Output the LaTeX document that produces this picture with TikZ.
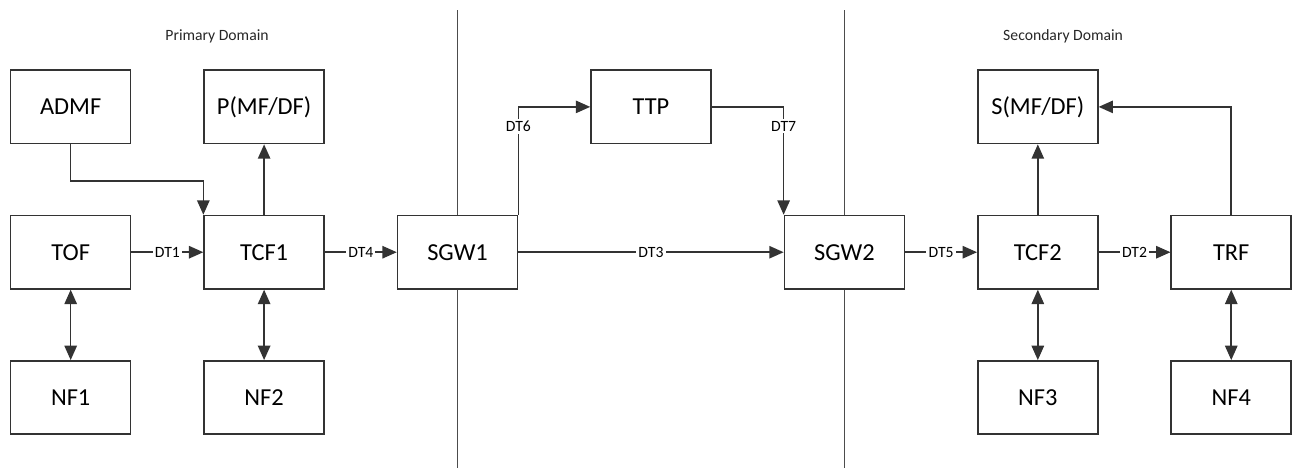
\documentclass[tikz,border=0pt]{standalone}
\usepackage{fontspec}
\setmainfont{Carlito}
\usetikzlibrary{positioning,arrows.meta,calc}
\tikzset{
  fbox/.style={draw=black!80,line width=0.9pt,fill=white,minimum width=24.2mm,
               minimum height=14.8mm,inner sep=1pt,font=\fontsize{14}{16}\selectfont},
  fl/.style={-{Triangle[length=2.9mm,width=2.5mm]},line width=0.9pt,draw=black!80},
  bfl/.style={{Triangle[length=2.9mm,width=2.5mm]}-{Triangle[length=2.9mm,width=2.5mm]},
              line width=0.9pt,draw=black!80},
  dt/.style={font=\fontsize{9}{10}\selectfont,fill=white,inner sep=1.2pt},
  dom/.style={font=\fontsize{9}{10}\selectfont,text=black!85},
  sep/.style={line width=0.9pt,draw=black!70},
}
\begin{document}
\begin{tikzpicture}[node distance=14.2mm and 14.5mm]
% primary domain
\node[fbox] (tof) {TOF};
\node[fbox,right=of tof] (tcf1) {TCF1};
\node[fbox,right=of tcf1] (sgw1) {SGW1};
\node[fbox,above=of tof] (admf) {ADMF};
\node[fbox,above=of tcf1] (pmf) {P(MF/DF)};
\node[fbox,below=of tof] (nf1) {NF1};
\node[fbox,below=of tcf1] (nf2) {NF2};
% trusted third party + secondary domain
\node[fbox,above right=of sgw1] (ttp) {TTP};
\node[fbox,below right=of ttp] (sgw2) {SGW2};
\node[fbox,right=of sgw2] (tcf2) {TCF2};
\node[fbox,right=of tcf2] (trf) {TRF};
\node[fbox,above=of tcf2] (smf) {S(MF/DF)};
\node[fbox,below=of tcf2] (nf3) {NF3};
\node[fbox,below=of trf] (nf4) {NF4};
\useasboundingbox ($(admf.north west)+(-0.2,1.4)$) rectangle ($(nf4.south east)+(0.04,-0.66)$);
% domain titles
\node[dom] (ptitle) at ($(pmf.north)+(-0.95,0.66)$) {Primary Domain};
\node[dom] (stitle) at ($(smf.north)+(0.51,0.66)$) {Secondary Domain};
% domain borders
\coordinate (b1t) at ($(sgw1.north)+(0,4.12)$);
\coordinate (b1b) at ($(sgw1.south)+(0,-3.6)$);
\coordinate (b2t) at ($(sgw2.north)+(0,4.12)$);
\coordinate (b2b) at ($(sgw2.south)+(0,-3.6)$);
\draw[sep] (sgw1.north) -- (b1t);
\draw[sep] (sgw1.south) -- (b1b);
\draw[sep] (sgw2.north) -- (b2t);
\draw[sep] (sgw2.south) -- (b2b);
% flows
\draw[fl] (admf.south) -- ++(0,-7.4mm) -| (tcf1.north west);
\draw[fl] (tcf1.north) -- (pmf.south);
\draw[fl] (tof) -- (tcf1) node[dt,midway] {DT1};
\draw[fl] (tcf1) -- (sgw1) node[dt,midway] {DT4};
\draw[fl] (sgw1) -- (sgw2) node[dt,midway] {DT3};
\draw[fl] (sgw2) -- (tcf2) node[dt,midway] {DT5};
\draw[fl] (tcf2) -- (trf) node[dt,midway] {DT2};
\draw[fl] (sgw1.north east) |- (ttp.west) node[dt,pos=0.41] {DT6};
\draw[fl] (ttp.east) -| (sgw2.north west) node[dt,pos=0.59] {DT7};
\draw[fl] (tcf2.north) -- (smf.south);
\draw[fl] (trf.north) |- (smf.east);
\draw[bfl] (tof) -- (nf1);
\draw[bfl] (tcf1) -- (nf2);
\draw[bfl] (tcf2) -- (nf3);
\draw[bfl] (trf) -- (nf4);
\end{tikzpicture}
\end{document}
